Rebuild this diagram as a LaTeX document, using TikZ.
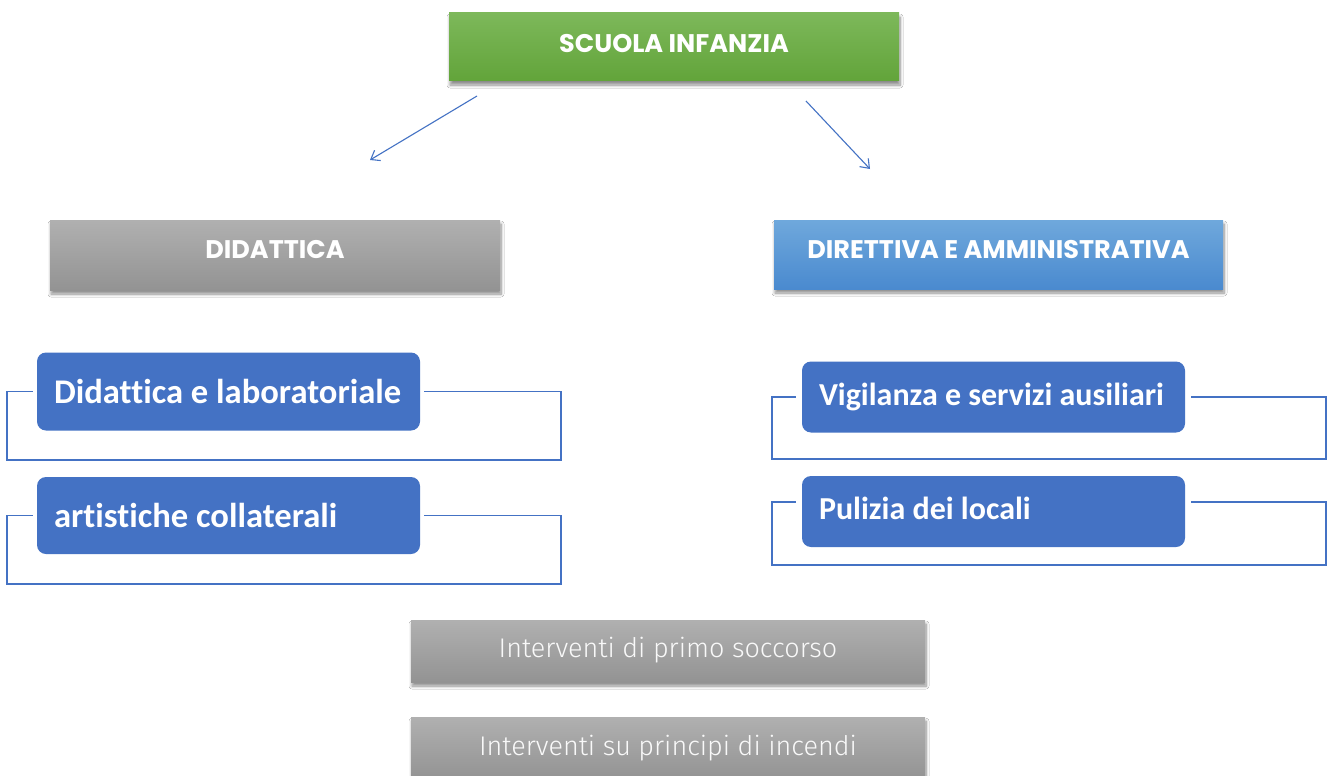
\documentclass[tikz,border=0pt]{standalone}
\usepackage{fontspec}
\setmainfont{Carlito}[Ligatures=NoCommon]
\newfontfamily\headfont{Poppins}
\newfontfamily\lightfont{Fira Sans Light}[Ligatures=NoCommon]
\usetikzlibrary{arrows.meta,shadows.blur,positioning}
\definecolor{ablue}{HTML}{4472C4}
\definecolor{gtop}{HTML}{7DB85A}
\definecolor{gbot}{HTML}{62A43A}
\definecolor{btop}{HTML}{6FA8DC}
\definecolor{bbot}{HTML}{4A8ACF}
\definecolor{ytop}{HTML}{B0B0B0}
\definecolor{ybot}{HTML}{939393}
\tikzset{
  x=1pt,y=-1pt,
  header/.style={rectangle,blur shadow={shadow xshift=1pt,shadow yshift=-4pt,shadow blur steps=8,shadow blur radius=3pt,shadow opacity=45},
    text=white,font=\headfont\bfseries\fontsize{25.5}{30}\selectfont,inner sep=0pt},
  greenbox/.style={header,top color=gtop,bottom color=gbot,minimum width=450pt,minimum height=68pt},
  graybox/.style={header,top color=ytop,bottom color=ybot},
  bluehead/.style={header,top color=btop,bottom color=bbot},
  item/.style={rectangle,rounded corners=9pt,fill=ablue,text=white,minimum width=383pt,
    inner xsep=17pt,inner ysep=0pt,font=\bfseries\fontsize{34.6}{40}\selectfont},
  smallitem/.style={item,font=\bfseries\fontsize{32}{38}\selectfont},
  bracket/.style={draw=ablue,line width=1.6pt},
  link/.style={draw=ablue,line width=1.1pt,-{Straight Barb[length=8pt,width=12pt,line width=1.1pt]}},
  lowbox/.style={header,top color=ytop,bottom color=ybot,minimum width=514pt,
    font=\lightfont\fontsize{27}{32}\selectfont,text=white!95!gray}
}
\newcommand{\itemtext}[1]{\makebox[349pt][l]{#1}}
\begin{document}
\begin{tikzpicture}
\useasboundingbox[fill=white] (0,0) rectangle (1331,776);
\node[greenbox] (top) at (674,47) {\raisebox{8pt}{SCUOLA INFANZIA}};
\node[graybox,minimum width=450pt,minimum height=70pt] (did) at (275,255) {\raisebox{11pt}{DIDATTICA}};
\node[bluehead,minimum width=449pt,minimum height=69pt] (dir) at (998.5,254.5) {\raisebox{10pt}{DIRETTIVA E AMMINISTRATIVA}};

\coordinate (a1s) at (477,96);
\coordinate (a1e) at (370,160);
\coordinate (a2s) at (806,101);
\coordinate (a2e) at (870,169);
\draw[link] (a1s) -- (a1e);
\draw[link] (a2s) -- (a2e);

\node[item,minimum height=78pt] (l1) at (228.5,391.5) {\itemtext{Didattica e laboratoriale}};
\node[item,minimum height=77pt] (l2) at (228.5,515.5) {\itemtext{artistiche collaterali}};
\node[smallitem,minimum height=71pt] (r1) at (993.5,397) {\itemtext{Vigilanza e servizi ausiliari}};
\node[smallitem,minimum height=71pt] (r2) at (993.5,511.5) {\raisebox{6pt}{\itemtext{Pulizia dei locali}}};

\draw[bracket] ([xshift=-4pt]l1.west) -| (7,460) -| (561,391.5) -- ([xshift=4pt]l1.east);
\draw[bracket] ([xshift=-4pt]l2.west) -| (7,584) -| (561,515.5) -- ([xshift=4pt]l2.east);
\draw[bracket] ([xshift=-6pt]r1.west) -| (772,459) -| (1326,397) -- ([xshift=6pt]r1.east);
\draw[bracket] ([xshift=-6pt,yshift=9.5pt]r2.west) -| (772,565) -| (1326,502) -- ([xshift=6pt,yshift=9.5pt]r2.east);

\node[lowbox,minimum height=62pt] (p1) at (668,651) {\raisebox{7pt}{Interventi di primo soccorso}};
\node[lowbox,minimum height=62pt,anchor=north] (p2) at (668,717) {\raisebox{6pt}{Interventi su principi di incendi}};
\end{tikzpicture}
\end{document}
